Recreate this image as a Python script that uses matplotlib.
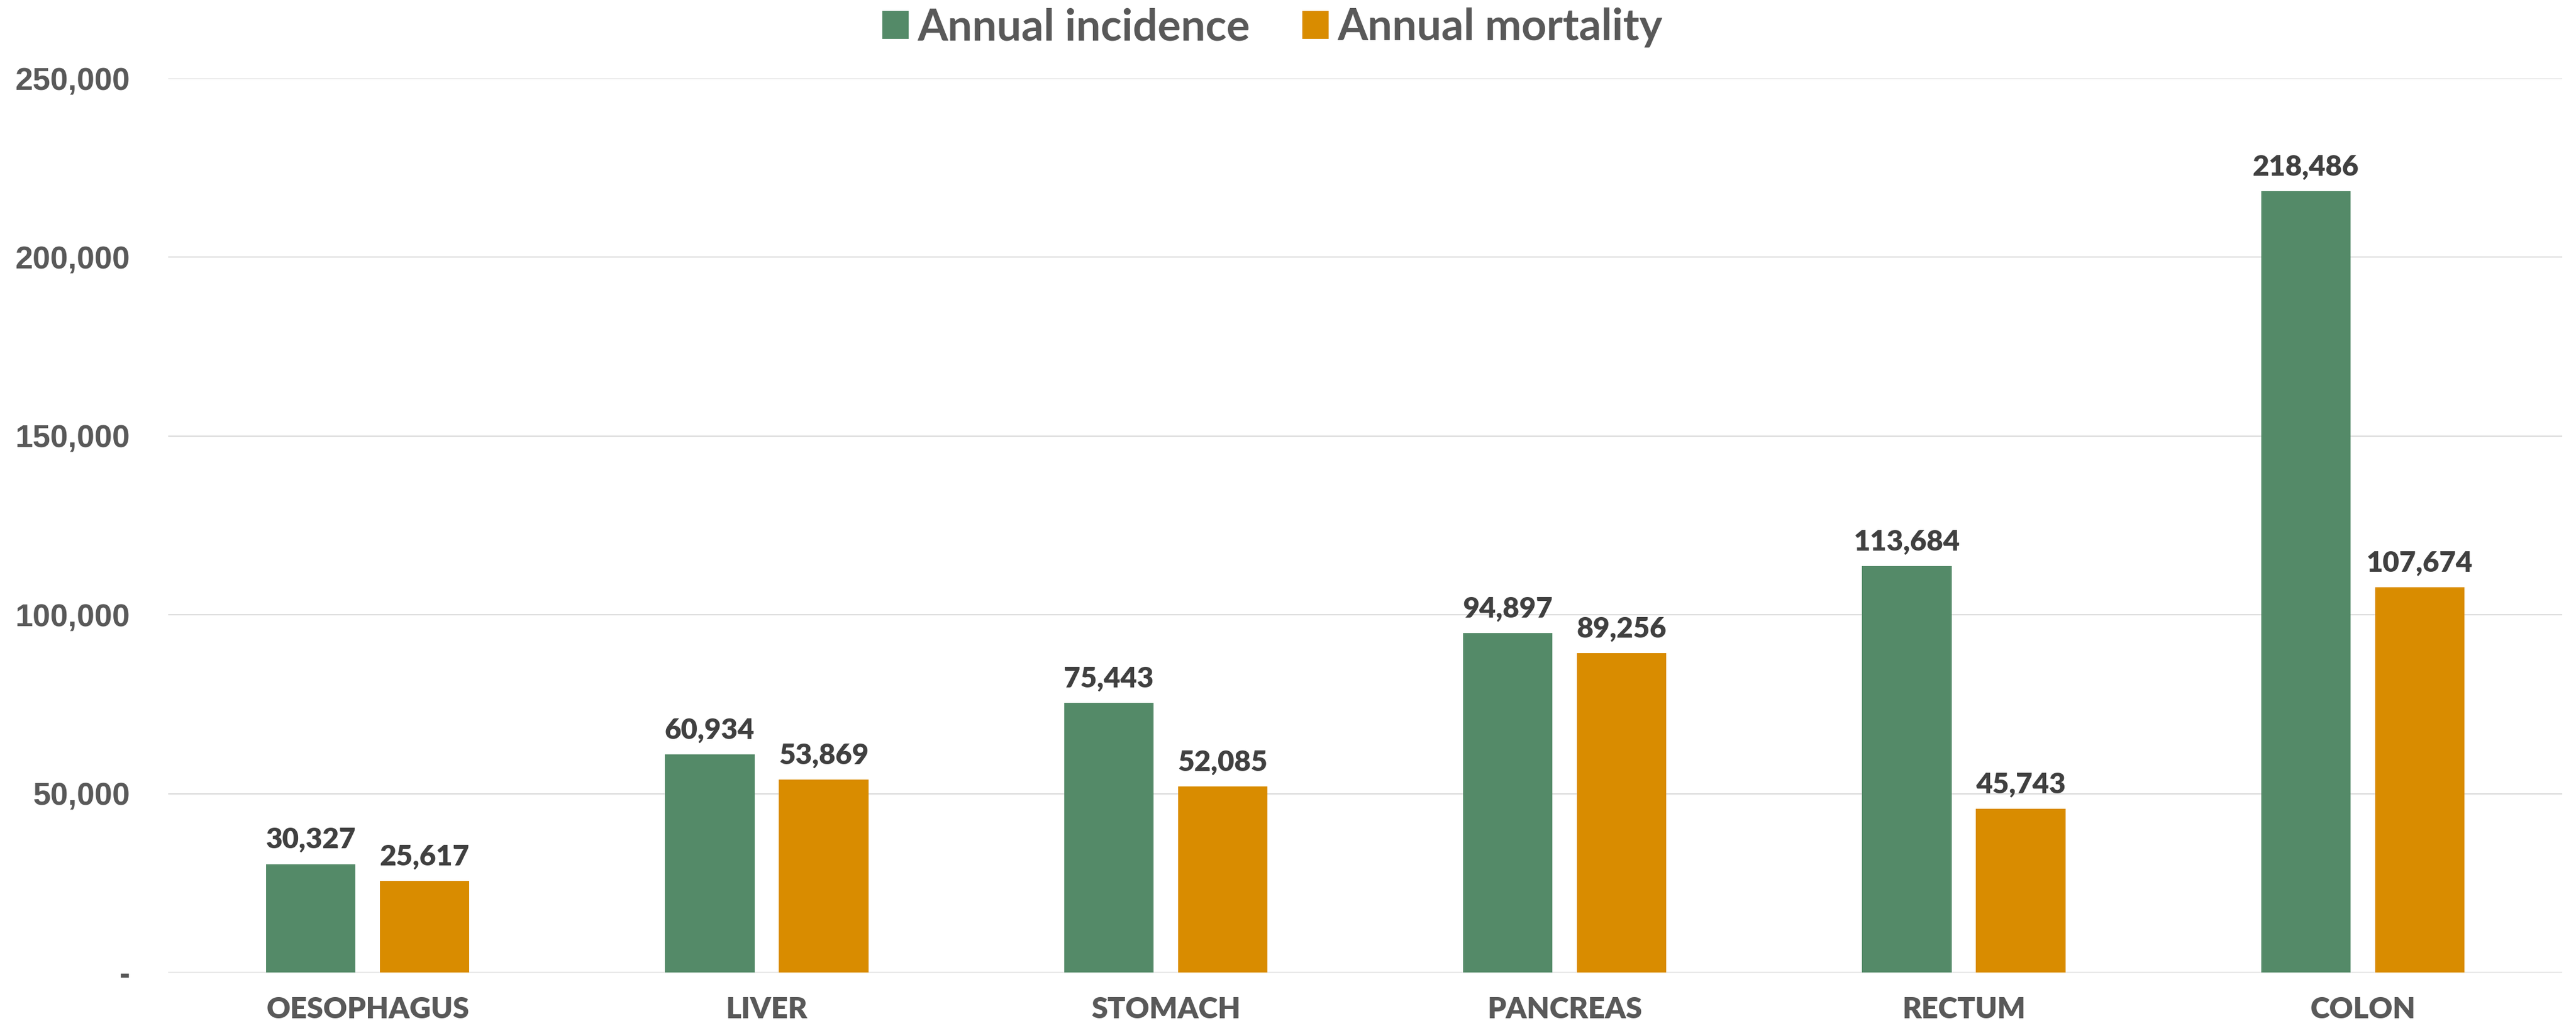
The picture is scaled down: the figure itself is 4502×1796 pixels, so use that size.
import matplotlib.pyplot as plt
import numpy as np
from matplotlib.ticker import FuncFormatter

categories = ["OESOPHAGUS", "LIVER", "STOMACH", "PANCREAS", "RECTUM", "COLON"]
incidence = [30327, 60934, 75443, 94897, 113684, 218486]
mortality = [25617, 53869, 52085, 89256, 45743, 107674]

green = "#548A68"
orange = "#D98C00"
grey = "#595959"
dark = "#404040"

fig = plt.figure(figsize=(45.02, 17.96), dpi=100)
ax = fig.add_axes([294/4502, 97/1796, 4184/4502, 1562/1796])

x = np.arange(len(categories))
w = 0.224
off = 0.1427
b1 = ax.bar(x - off, incidence, w, color=green, label="Annual incidence", zorder=3)
b2 = ax.bar(x + off, mortality, w, color=orange, label="Annual mortality", zorder=3)

for bars in (b1, b2):
    for r in bars:
        ax.annotate(f"{int(r.get_height()):,}", (r.get_x() + r.get_width()/2, r.get_height()),
                    xytext=(0, 14), textcoords="offset points", ha="center", va="bottom",
                    fontsize=36, fontweight="heavy", color=dark, family="Lato")

ax.set_xlim(-0.5, len(categories) - 0.5)
ax.set_ylim(0, 250000)
ax.set_yticks(np.arange(0, 250001, 50000))
ax.yaxis.set_major_formatter(FuncFormatter(lambda v, p: "-" if v == 0 else f"{int(v):,}"))
ax.grid(axis="y", color="#D9D9D9", linewidth=1.5, zorder=0)
ax.set_xticks(x)
ax.set_xticklabels(categories, fontsize=37, fontweight="heavy", color=grey, family="Lato")
for t in ax.get_yticklabels():
    t.set_fontsize(40)
    t.set_fontweight("bold")
    t.set_color(grey)
    t.set_family("Liberation Sans")
ax.tick_params(axis="both", length=0)
ax.tick_params(axis="y", pad=48)
ax.tick_params(axis="x", pad=30)
for s in ax.spines.values():
    s.set_visible(False)

fig.legend(loc="center", bbox_to_anchor=(0.494, 0.973), ncol=2, frameon=False,
           prop={"family": "Lato", "size": 55, "weight": "bold"}, labelcolor=grey,
           handlelength=0.6, handleheight=0.6, handletextpad=0.2, columnspacing=1.2)

fig.savefig("out.png", dpi=100, facecolor="white")
